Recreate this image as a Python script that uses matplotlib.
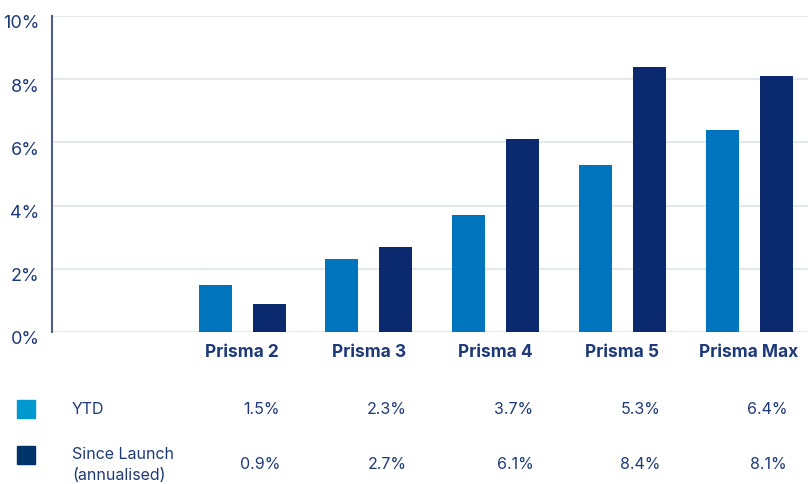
import matplotlib
matplotlib.use("Agg")
import matplotlib.pyplot as plt
import matplotlib.transforms as mtransforms
from matplotlib.patches import Rectangle

categories = ["", "Prisma 2", "Prisma 3", "Prisma 4", "Prisma 5", "Prisma Max"]
ytd = [None, 1.5, 2.3, 3.7, 5.3, 6.4]
since_launch = [None, 0.9, 2.7, 6.1, 8.4, 8.1]
series_names = ["YTD", "Since Launch\n(annualised)"]
yticks = [0, 2, 4, 6, 8, 10]
ytick_labels = ["0%", "2%", "4%", "6%", "8%", "10%"]

plt.rcParams['font.family'] = ['Inter', 'DejaVu Sans']
text_color = "#1f3a78"
c_ytd = "#0075be"
c_sl = "#0b296f"
c_ytd_leg = "#0099cf"
c_sl_leg = "#00336a"

W, H = 808, 485
fig = plt.figure(figsize=(W / 100, H / 100), dpi=100)
ax = fig.add_axes([52 / W, 1 - 333 / H, 1 - 52 / W, (333 - 17) / H])

bw = 0.26
off = 0.213
for i, cat in enumerate(categories):
    if ytd[i] is not None:
        ax.bar(i - off, ytd[i], width=bw, color=c_ytd, zorder=3)
    if since_launch[i] is not None:
        ax.bar(i + off, since_launch[i], width=bw, color=c_sl, zorder=3)

ax.set_xlim(-0.5, 5.465)
ax.set_ylim(0, 10)
ax.set_yticks(yticks)
ax.set_yticklabels(ytick_labels, fontsize=13, color=text_color)
ax.set_xticks([])
ax.tick_params(axis='y', length=0, pad=9)
for lab in ax.get_yticklabels():
    lab.set_transform(lab.get_transform() + mtransforms.ScaledTranslation(0, -5 / 100, fig.dpi_scale_trans))
ax.grid(axis='y', color="#e4e9ea", linewidth=1.5, zorder=0)
for s in ["top", "right", "bottom"]:
    ax.spines[s].set_visible(False)
ax.spines["left"].set_color("#4d5d8c")
ax.spines["left"].set_linewidth(1.5)
ax.axhline(0, color="#e4e9ea", linewidth=2, zorder=2)

# category labels
tr = mtransforms.blended_transform_factory(ax.transData, fig.transFigure)
for i, cat in enumerate(categories):
    if cat:
        ax.text(i, 1 - 353 / H, cat, transform=tr, ha='center', va='center',
                fontsize=12.5, fontweight='bold', color=text_color)

# table rows
rows = [ytd, since_launch]
label_y = [410, 465]
value_y = [410, 465]
square_y = [401, 447]
leg_colors = [c_ytd_leg, c_sl_leg]
for r, vals in enumerate(rows):
    fig.patches.append(Rectangle((17 / W, 1 - (square_y[r] + 18) / H), 18 / W, 18 / H,
                                 transform=fig.transFigure, color=leg_colors[r]))
    fig.text(72 / W, 1 - label_y[r] / H, series_names[r], ha='left', va='center', fontsize=11.5,
             color=text_color, linespacing=1.45)
    for i, v in enumerate(vals):
        if v is not None:
            ax.text(i + 0.3, 1 - value_y[r] / H, f"{v:.1f}%", transform=tr,
                    ha='right', va='center', fontsize=11.5, color=text_color)

fig.savefig("out.png", dpi=100)
